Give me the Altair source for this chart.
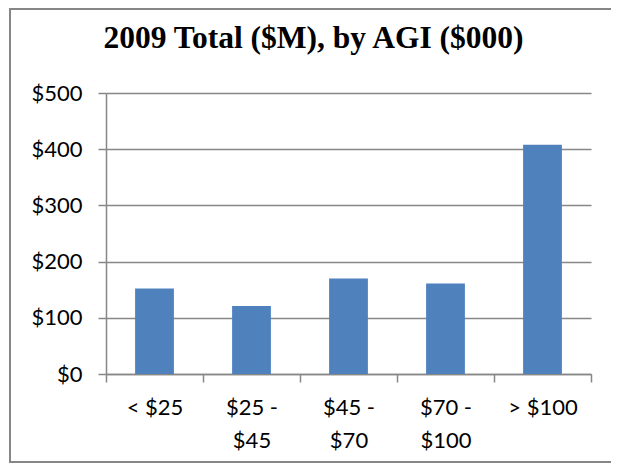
import altair as alt
import pandas as pd

categories = ["< $25", "$25 - $45", "$45 - $70", "$70 - $100", "> $100"]
totals = [152, 121, 170, 161, 408]
y_ticks = [0, 100, 200, 300, 400, 500]
title_text = "2009 Total ($M), by AGI ($000)"

df = pd.DataFrame({"agi": categories, "total": totals})

GRAY = "#878787"
LABEL_FONT = "Lato"

bars = alt.Chart(df).mark_bar(color="#4F81BD", width=alt.RelativeBandSize(0.4)).encode(
    x=alt.X(
        "agi:N",
        sort=categories,
        scale=alt.Scale(paddingInner=0, paddingOuter=0),
        axis=alt.Axis(
            title=None,
            tickBand="extent",
            labelAngle=0,
            labelExpr="split(replace(datum.label, ' - ', ' -|'), '|')",
            labelFont=LABEL_FONT,
            labelFontSize=22,
            labelColor="black",
            labelLineHeight=33,
            labelPadding=15,
            tickSize=8,
            tickColor=GRAY,
            tickWidth=1.5,
            domainColor=GRAY,
            domainWidth=1.5,
            grid=False,
        ),
    ),
    y=alt.Y(
        "total:Q",
        scale=alt.Scale(domain=[0, 500], nice=False),
        axis=alt.Axis(
            title=None,
            values=y_ticks,
            labelExpr="'$' + datum.value",
            labelFont=LABEL_FONT,
            labelFontSize=22,
            labelColor="black",
            labelPadding=16,
            tickSize=8,
            tickColor=GRAY,
            tickWidth=1.5,
            domainColor=GRAY,
            domainWidth=1.5,
            grid=True,
            gridColor=GRAY,
            gridWidth=1.5,
            gridOpacity=1,
        ),
    ),
)

frame_df = pd.DataFrame({"k": [0]})
left_edge = alt.Chart(frame_df).mark_rule(color=GRAY, strokeWidth=2).encode(
    x=alt.value(-96), y=alt.value(-84), y2=alt.value(369)
)
top_edge = alt.Chart(frame_df).mark_rule(color=GRAY, strokeWidth=2).encode(
    x=alt.value(-97), x2=alt.value(520), y=alt.value(-84)
)
bottom_edge = alt.Chart(frame_df).mark_rule(color=GRAY, strokeWidth=2).encode(
    x=alt.value(-97), x2=alt.value(520), y=alt.value(369)
)

chart = alt.layer(left_edge, top_edge, bottom_edge, bars).properties(
    width=485,
    height=281,
    autosize=alt.AutoSizeParams(type="none"),
    padding={"left": 98, "top": 85, "right": 20, "bottom": 90},
    title=alt.TitleParams(
        title_text,
        font="Liberation Serif",
        fontSize=31.5,
        fontWeight="bold",
        color="black",
        anchor="middle",
        dx=-35,
        baseline="alphabetic",
        offset=-71,
    ),
).configure_view(stroke=None)

chart.save("out.html", embed_options={"renderer": "svg", "actions": False})
